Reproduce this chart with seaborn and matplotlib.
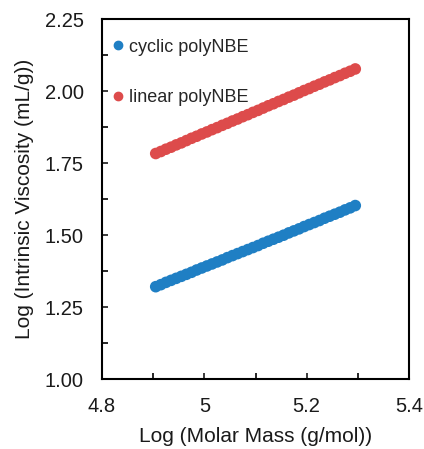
import numpy as np
import pandas as pd
import seaborn as sns
import matplotlib
matplotlib.use("Agg")
import matplotlib.pyplot as plt
from matplotlib.ticker import MultipleLocator, FuncFormatter

# Log molar mass (g/mol), shared by both series
log_mass = [4.905, 4.915, 4.925, 4.935, 4.945, 4.955, 4.965, 4.975, 4.985, 4.995,
            5.005, 5.015, 5.025, 5.035, 5.045, 5.055, 5.065, 5.075, 5.085, 5.095,
            5.105, 5.115, 5.125, 5.135, 5.145, 5.155, 5.165, 5.175, 5.185, 5.195,
            5.205, 5.215, 5.225, 5.235, 5.245, 5.255, 5.265, 5.275, 5.285, 5.295]

# Log intrinsic viscosity (mL/g)
cyclic_visc = [1.321, 1.328, 1.336, 1.343, 1.350, 1.357, 1.364, 1.371, 1.379, 1.386,
               1.393, 1.400, 1.407, 1.414, 1.422, 1.429, 1.436, 1.443, 1.450, 1.457,
               1.464, 1.472, 1.479, 1.486, 1.493, 1.500, 1.508, 1.515, 1.522, 1.530,
               1.537, 1.544, 1.551, 1.559, 1.566, 1.573, 1.580, 1.588, 1.595, 1.603]
linear_visc = [1.784, 1.791, 1.799, 1.806, 1.814, 1.821, 1.829, 1.837, 1.844, 1.852,
               1.859, 1.867, 1.874, 1.882, 1.889, 1.897, 1.904, 1.912, 1.919, 1.927,
               1.934, 1.942, 1.950, 1.957, 1.965, 1.972, 1.980, 1.987, 1.995, 2.003,
               2.010, 2.018, 2.025, 2.033, 2.040, 2.048, 2.055, 2.063, 2.070, 2.078]

series = ["cyclic polyNBE", "linear polyNBE"]
colors = {"cyclic polyNBE": "#1f7fc4", "linear polyNBE": "#dd4b4b"}

df = pd.concat([
    pd.DataFrame({"x": log_mass, "y": cyclic_visc, "polymer": series[0]}),
    pd.DataFrame({"x": log_mass, "y": linear_visc, "polymer": series[1]}),
])

sns.set_style("white")
plt.rcParams["font.family"] = ["Liberation Sans", "DejaVu Sans"]

fig = plt.figure(figsize=(4.24, 4.49), dpi=100)
ax = fig.add_axes([0.2406, 0.1559, 0.7240, 0.8007])

sns.scatterplot(data=df, x="x", y="y", hue="polymer", palette=colors,
                s=70, linewidth=0, ax=ax, legend=False)

ax.set_xlim(4.8, 5.4)
ax.set_ylim(1.0, 2.25)
ax.xaxis.set_major_locator(MultipleLocator(0.2))
ax.xaxis.set_minor_locator(MultipleLocator(0.1))
ax.yaxis.set_major_locator(MultipleLocator(0.25))
ax.yaxis.set_minor_locator(MultipleLocator(0.125))
ax.xaxis.set_major_formatter(FuncFormatter(lambda v, p: f"{v:g}"))
ax.yaxis.set_major_formatter(FuncFormatter(lambda v, p: f"{v:.2f}"))
ax.tick_params(which="both", direction="in", length=4, width=1.2, color="black",
               top=False, right=False, bottom=True, left=True)
ax.tick_params(which="major", labelsize=14.5, colors="#1a1a1a")
ax.tick_params(axis="y", which="major", pad=13)
ax.tick_params(axis="x", which="major", pad=13)

for side in ["left", "bottom", "top", "right"]:
    ax.spines[side].set_color("black")
    ax.spines[side].set_linewidth(1.5)

ax.set_xlabel("Log (Molar Mass (g/mol))", fontsize=15, labelpad=8, color="#1a1a1a")
ax.set_ylabel("Log (Intrinsic Viscosity (mL/g))", fontsize=15, labelpad=8, color="#1a1a1a")

handles = [plt.Line2D([], [], marker="o", linestyle="none", markersize=6,
                      color=colors[name]) for name in series]
ax.legend(handles, series, loc="upper left", frameon=False, fontsize=13,
          handlelength=0.6, handletextpad=0.3, labelspacing=1.85,
          borderaxespad=0.2, bbox_to_anchor=(0.0, 0.977))

fig.savefig("out.png", dpi=100)
